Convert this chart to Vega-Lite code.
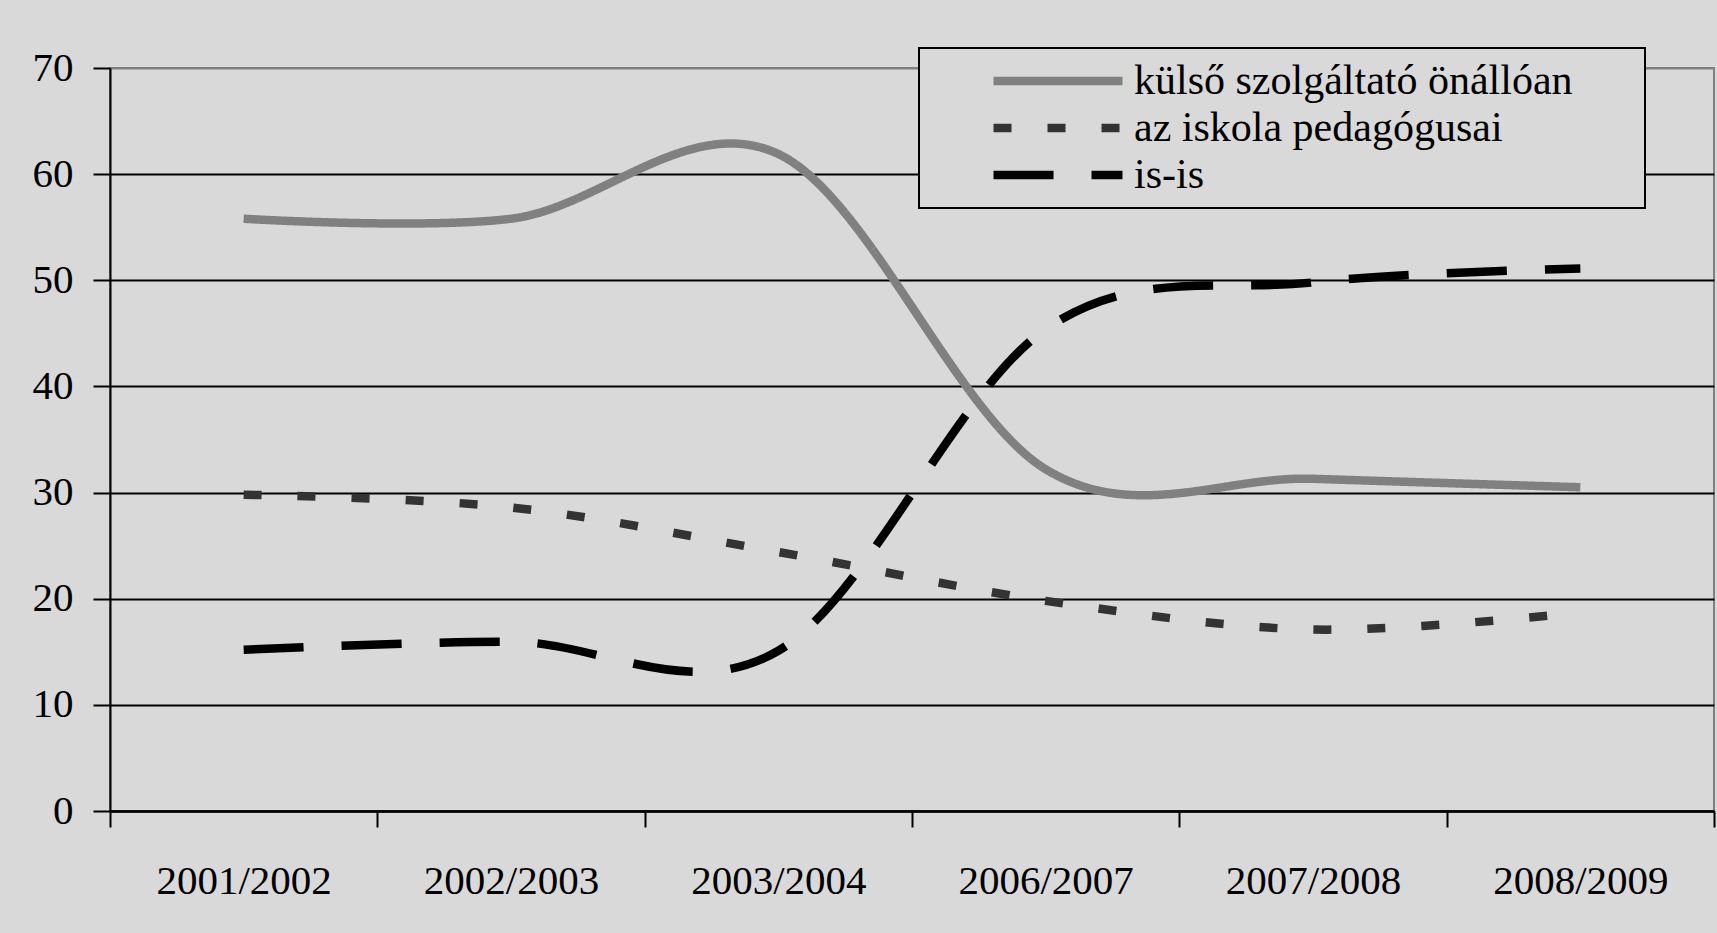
{
  "$schema": "https://vega.github.io/schema/vega-lite/v6.json",
  "width": 1604,
  "height": 743,
  "autosize": {"type": "none"},
  "padding": {"left": 110, "top": 68, "right": 3, "bottom": 122},
  "background": "#d9d9d9",
  "config": {
    "view": {"stroke": "#808080", "strokeWidth": 2},
    "font": "Liberation Serif"
  },
  "data": {
    "values": [
      {"year": "2001/2002", "series": "külső szolgáltató önállóan", "value": 55.8},
      {"year": "2002/2003", "series": "külső szolgáltató önállóan", "value": 55.8},
      {"year": "2003/2004", "series": "külső szolgáltató önállóan", "value": 61.9},
      {"year": "2006/2007", "series": "külső szolgáltató önállóan", "value": 32.2},
      {"year": "2007/2008", "series": "külső szolgáltató önállóan", "value": 31.3},
      {"year": "2008/2009", "series": "külső szolgáltató önállóan", "value": 30.5},
      {"year": "2001/2002", "series": "az iskola pedagógusai", "value": 29.8},
      {"year": "2002/2003", "series": "az iskola pedagógusai", "value": 28.6},
      {"year": "2003/2004", "series": "az iskola pedagógusai", "value": 24.4},
      {"year": "2006/2007", "series": "az iskola pedagógusai", "value": 19.8},
      {"year": "2007/2008", "series": "az iskola pedagógusai", "value": 17.1},
      {"year": "2008/2009", "series": "az iskola pedagógusai", "value": 18.7},
      {"year": "2001/2002", "series": "is-is", "value": 15.2},
      {"year": "2002/2003", "series": "is-is", "value": 15.95},
      {"year": "2003/2004", "series": "is-is", "value": 15.1},
      {"year": "2006/2007", "series": "is-is", "value": 45.4},
      {"year": "2007/2008", "series": "is-is", "value": 49.8},
      {"year": "2008/2009", "series": "is-is", "value": 51.1}
    ]
  },
  "mark": {"type": "line", "interpolate": "cardinal", "tension": 0, "strokeWidth": 8.5, "strokeCap": "butt"},
  "encoding": {
    "x": {
      "field": "year",
      "type": "ordinal",
      "sort": null,
      "bandPosition": 0.5,
      "scale": {"type": "band", "paddingInner": 0, "paddingOuter": 0},
      "axis": {
        "title": null,
        "labelAngle": 0,
        "labelFont": "Liberation Serif",
        "labelFontSize": 41,
        "labelColor": "black",
        "labelPadding": 34,
        "labelBaseline": "top",
        "domainColor": "black",
        "domainWidth": 2.5,
        "tickColor": "black",
        "tickWidth": 2,
        "tickSize": 16,
        "tickBand": "extent",
        "grid": false
      }
    },
    "y": {
      "field": "value",
      "type": "quantitative",
      "scale": {"domain": [0, 70], "nice": false},
      "axis": {
        "title": null,
        "values": [0, 10, 20, 30, 40, 50, 60, 70],
        "labelFont": "Liberation Serif",
        "labelFontSize": 41,
        "labelColor": "black",
        "labelPadding": 20,
        "domainColor": "black",
        "domainWidth": 2,
        "tickColor": "black",
        "tickWidth": 2,
        "tickSize": 17,
        "grid": true,
        "gridColor": {"condition": {"test": "datum.value == 70", "value": "#808080"}, "value": "black"},
        "gridWidth": 2,
        "gridOpacity": 1
      }
    },
    "stroke": {
      "field": "series",
      "type": "nominal",
      "scale": {
        "domain": ["külső szolgáltató önállóan", "az iskola pedagógusai", "is-is"],
        "range": ["#808080", "#333333", "#000000"]
      },
      "legend": {
        "title": null,
        "orient": "none",
        "legendX": 809,
        "legendY": -20,
        "symbolType": "M-6,0H6M51.9,0",
        "symbolSize": 462,
        "symbolStrokeWidth": 8.5,
        "symbolOffset": 106,
        "labelFont": "Liberation Serif",
        "labelFontSize": 42,
        "labelColor": "black",
        "labelOffset": 55,
        "labelLimit": 0,
        "rowPadding": 5,
        "padding": 12,
        "fillColor": "#d9d9d9",
        "strokeColor": "black",
        "encode": {"legend": {"update": {"strokeWidth": {"value": 2}}}}
      }
    },
    "strokeDash": {
      "field": "series",
      "type": "nominal",
      "scale": {
        "domain": ["külső szolgáltató önállóan", "az iskola pedagógusai", "is-is"],
        "range": [[1, 0], [18, 36], [60, 38]]
      }
    }
  }
}
